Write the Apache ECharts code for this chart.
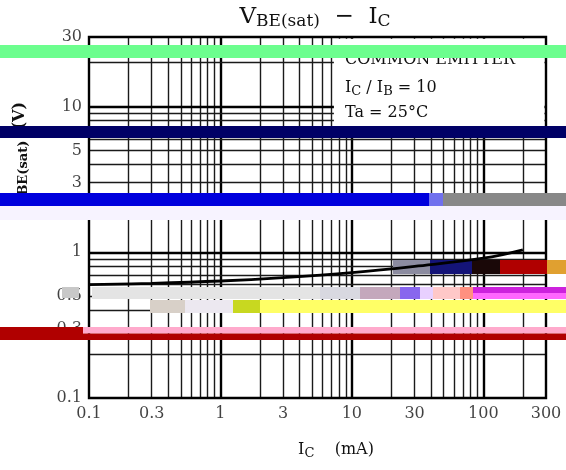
<!DOCTYPE html>
<html>
<head>
<meta charset="utf-8">
<script src="https://cdn.jsdelivr.net/npm/echarts@6/dist/echarts.min.js"></script>
<style>
html,body{margin:0;padding:0;background:#fff;}
#c{width:566px;height:470px;}
</style>
</head>
<body>
<div id="c"></div>
<script>
// ---- data ----
const icValues  = [0.1, 0.3, 1, 3, 10, 30, 100, 200];              // I_C (mA)
const vbeValues = [0.60, 0.612, 0.635, 0.67, 0.725, 0.80, 0.91, 1.04]; // V_BE(sat) (V)
const xTickLabels = [0.1, 0.3, 1, 3, 10, 30, 100, 300];
const yTickLabels = [0.1, 0.3, 0.5, 1, 3, 5, 10, 30];
const xGridValues = [0.2,0.3,0.4,0.5,0.6,0.7,0.8,0.9,1,2,3,4,5,6,7,8,9,10,20,30,40,50,60,70,80,90,100,200];
const yGridValues = [0.2,0.3,0.4,0.5,0.6,0.7,0.8,0.9,1,2,3,4,5,6,7,8,9,10,20];
const xDecades = [1, 10, 100];
const yDecades = [1, 10];

const SERIF = '"DejaVu Serif", "Liberation Serif", serif';
const TICKFONT = '"DejaVu Serif", serif';
const INK = '#111';

const gridLines = [];
xGridValues.forEach(v => {
  const d = xDecades.indexOf(v) >= 0;
  gridLines.push({xAxis: v, lineStyle: {color: d ? '#000' : '#1a1a1a', width: d ? 2.4 : 1.4, type: 'solid'}});
});
yGridValues.forEach(v => {
  const d = yDecades.indexOf(v) >= 0;
  gridLines.push({yAxis: v, lineStyle: {color: d ? '#000' : '#1a1a1a', width: d ? 2.4 : 1.4, type: 'solid'}});
});

// decorative colour bands seen in the reference picture: [x, y, w, h, colour, z]
const bands = [
  [0,45,566,13,'#6cfe8e',10],
  [0,126,566,12,'#000066',10],
  [0,193,429,13,'#0000dd',10],
  [429,193,14,13,'#7070ee',10],
  [443,193,123,13,'#888888',10],
  [0,206,566,14,'#f7f3ff',10],
  [62,287,17,11,'#c8c8c8',10],
  [92,287,228,12,'#e4e4e4',10],
  [320,287,40,12,'#d8d8e0',10],
  [360,287,40,12,'#c4a8bc',10],
  [400,287,20,12,'#8866ee',10],
  [420,287,13,12,'#e8d0ff',10],
  [433,287,27,12,'#ffc8c8',10],
  [460,287,13,12,'#ff9080',10],
  [473,287,93,6,'#cc22dd',10],
  [473,293,93,6,'#ff66ff',10],
  [150,300,35,13,'#d8d0c8',10],
  [185,300,48,13,'#ece8f0',10],
  [233,300,27,13,'#c8d820',10],
  [260,300,306,13,'#ffff66',10],
  [0,327,83,13,'#b00000',10],
  [83,327,483,6.5,'#ffaacc',10],
  [83,333.5,483,6.5,'#b00000',10],
  [393,260,37,14,'#8c8ca0',15],
  [430,260,42,14,'#141478',15],
  [472,260,28,14,'#1a0808',15],
  [500,260,47,14,'#b00000',15],
  [547,260,19,14,'#e0a030',15]
];

function richText(x, y, text, rich, opts) {
  return Object.assign({
    type: 'text', x: x, y: y, z: 6, silent: true,
    style: {
      text: text, rich: rich, fill: INK,
      align: 'left', textAlign: 'left',
      verticalAlign: 'middle', textVerticalAlign: 'middle',
      font: '16px ' + SERIF
    }
  }, opts || {});
}

const boxFont = '16px ' + SERIF;

const graphics = [];
bands.forEach(b => graphics.push({
  type: 'rect', silent: true, z: b[5],
  shape: {x: b[0], y: b[1], width: b[2], height: b[3]},
  style: {fill: b[4]}
}));

// title
graphics.push({
  type: 'text', x: 315, y: 17, z: 6, silent: true,
  style: {
    text: '{m|V}{s|BE(sat)}{m|  −  I}{s|C}',
    align: 'center', textAlign: 'center', verticalAlign: 'middle', textVerticalAlign: 'middle',
    fill: INK,
    rich: {
      m: {font: '23px ' + SERIF, fill: INK},
      s: {font: '17px ' + SERIF, fill: INK, padding: [10,0,0,0]}
    }
  }
});
// text box contents
graphics.push(richText(345, 59.5, '{m|COMMON EMITTER}', {m: {font: boxFont, fill: INK}}));
graphics.push(richText(345, 87.5, '{m|I}{s|C}{m| / I}{s|B}{m| = 10}', {
  m: {font: boxFont, fill: INK},
  s: {font: '13px ' + SERIF, fill: INK, padding: [8,0,0,0]}
}));
graphics.push(richText(345, 112.5, '{m|Ta = 25°C}', {m: {font: boxFont, fill: INK}}));
// x axis title
graphics.push({
  type: 'text', x: 336, y: 450, z: 6, silent: true,
  style: {
    text: '{m|I}{s|C}{m|    (mA)}',
    align: 'center', textAlign: 'center', verticalAlign: 'middle', textVerticalAlign: 'middle',
    fill: INK,
    rich: {
      m: {font: '16px ' + SERIF, fill: INK},
      s: {font: '13px ' + SERIF, fill: INK, padding: [8,0,0,0]}
    }
  }
});
// y axis title
graphics.push({
  type: 'text', x: 20, y: 155, rotation: Math.PI / 2, z: 6, silent: true,
  style: {
    text: '{m|V}{s|BE(sat)}{m|  (V)}',
    align: 'center', textAlign: 'center', verticalAlign: 'middle', textVerticalAlign: 'middle',
    fill: INK,
    rich: {
      m: {font: 'bold 16px ' + SERIF, fill: INK},
      s: {font: 'bold 13px ' + SERIF, fill: INK, padding: [8,0,0,0]}
    }
  }
});

const chart = echarts.init(document.getElementById('c'), null, {renderer: 'canvas'});
chart.setOption({
  animation: false,
  backgroundColor: '#fff',
  grid: {left: 89, top: 37, width: 457, height: 361, show: true, z: 8,
         borderColor: '#000', borderWidth: 2.4, backgroundColor: 'transparent', containLabel: false},
  xAxis: {type: 'log', logBase: 10, min: 0.1, max: 300,
          axisLine: {show: false}, axisTick: {show: false}, axisLabel: {show: false}, splitLine: {show: false}},
  yAxis: {type: 'log', logBase: 10, min: 0.1, max: 30,
          axisLine: {show: false}, axisTick: {show: false}, axisLabel: {show: false}, splitLine: {show: false}},
  series: [
    {type: 'line', name: 'grid', data: [], silent: true, z: 1,
     markLine: {silent: true, z: 1, symbol: ['none', 'none'], label: {show: false}, animation: false, data: gridLines}},
    {type: 'line', name: 'box', data: [], silent: true, z: 3,
     markArea: {silent: true, z: 3, itemStyle: {color: '#fff'}, label: {show: false},
                data: [[{coord: [7.3, 7]}, {coord: [292, 29.2]}]]}},
    {type: 'scatter', name: 'xTicks', data: xTickLabels.map(v => [v, 0.1]), symbolSize: 0, clip: false, silent: true, z: 4,
     label: {show: true, position: 'bottom', distance: 8, formatter: p => String(p.value[0]),
             fontFamily: TICKFONT, fontSize: 16, color: INK}},
    {type: 'scatter', name: 'yTicks', data: yTickLabels.map(v => [0.1, v]), symbolSize: 0, clip: false, silent: true, z: 4,
     label: {show: true, position: 'left', distance: 7, formatter: p => String(p.value[1]),
             fontFamily: TICKFONT, fontSize: 16, color: INK}},
    {type: 'line', name: 'VBE(sat)', data: icValues.map((v, i) => [v, vbeValues[i]]),
     smooth: 0.4, symbol: 'none', z: 20, lineStyle: {color: '#000', width: 2.8}}
  ],
  graphic: graphics
});
</script>
</body>
</html>
